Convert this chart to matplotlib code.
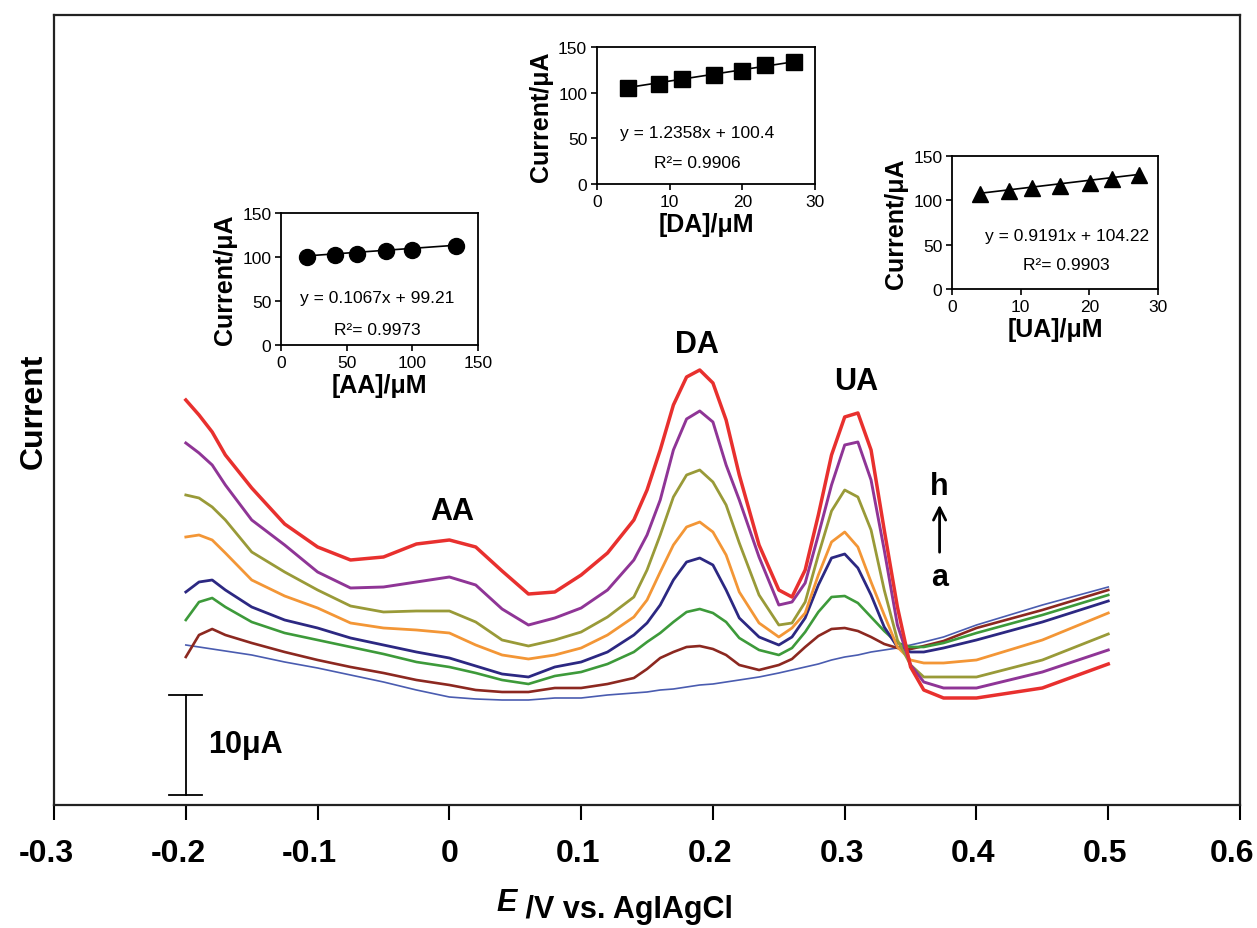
import numpy as np
import matplotlib
matplotlib.use('Agg')
import matplotlib.pyplot as plt
from matplotlib.transforms import ScaledTranslation

plt.rcParams['font.family'] = ['Liberation Sans', 'DejaVu Sans']

# potential (V vs Ag|AgCl) and currents (uA, arbitrary offset) for curves a..h
potential = [-0.2, -0.19, -0.18, -0.17, -0.15, -0.125, -0.1, -0.075, -0.05, -0.025,
             0, 0.02, 0.04, 0.06, 0.08, 0.1, 0.12, 0.14,
             0.15, 0.16, 0.17, 0.18, 0.19, 0.2, 0.21, 0.22, 0.235, 0.25,
             0.26, 0.27, 0.28, 0.29, 0.3, 0.31, 0.32, 0.33, 0.34, 0.35, 0.36,
             0.375, 0.4, 0.45, 0.5]

curve_a = [16.0, 15.8, 15.6, 15.4, 15.0, 14.3, 13.7, 13.0, 12.3, 11.5,
           10.8, 10.6, 10.5, 10.5, 10.7, 10.7, 11.0, 11.2,
           11.3, 11.5, 11.6, 11.8, 12.0, 12.1, 12.3, 12.5, 12.8, 13.2,
           13.5, 13.8, 14.1, 14.5, 14.8, 15.0, 15.3, 15.5, 15.7, 16.0, 16.3,
           16.8, 18.0, 20.0, 21.8]
curve_b = [14.8, 17.0, 17.6, 17.0, 16.2, 15.3, 14.5, 13.8, 13.2, 12.5,
           12.0, 11.5, 11.3, 11.3, 11.7, 11.7, 12.1, 12.7,
           13.6, 14.7, 15.3, 15.8, 15.9, 15.6, 15.0, 14.0, 13.5, 14.0,
           14.6, 15.8, 16.9, 17.6, 17.7, 17.4, 16.8, 16.1, 15.7, 15.6, 15.9,
           16.4, 17.7, 19.5, 21.5]
curve_c = [18.5, 20.3, 20.7, 19.8, 18.3, 17.2, 16.5, 15.8, 15.1, 14.3,
           13.8, 13.2, 12.5, 12.1, 12.9, 13.3, 14.1, 15.3,
           16.3, 17.2, 18.3, 19.3, 19.6, 19.2, 18.3, 16.7, 15.5, 15.0,
           15.7, 17.3, 19.3, 20.8, 20.9, 20.2, 18.8, 17.4, 16.2, 15.8, 15.8,
           16.2, 17.2, 19.0, 21.0]
curve_d = [21.3, 22.3, 22.5, 21.5, 19.8, 18.5, 17.7, 16.7, 16.0, 15.3,
           14.7, 13.9, 13.1, 12.8, 13.8, 14.3, 15.3, 17.0,
           18.2, 20.0, 22.5, 24.3, 24.7, 24.0, 21.5, 18.7, 16.8, 16.0,
           16.8, 18.7, 22.0, 24.7, 25.1, 23.7, 21.0, 17.8, 15.8, 15.3, 15.3,
           15.7, 16.5, 18.3, 20.4]
curve_e = [26.8, 27.0, 26.5, 25.2, 22.5, 20.9, 19.7, 18.2, 17.7, 17.5,
           17.2, 16.0, 15.0, 14.6, 15.0, 15.7, 17.0, 18.8,
           20.5, 23.3, 26.0, 27.8, 28.3, 27.3, 25.0, 21.3, 18.2, 16.8,
           17.7, 19.2, 23.0, 26.3, 27.3, 25.8, 22.3, 19.0, 15.8, 14.5, 14.2,
           14.2, 14.5, 16.5, 19.2]
curve_f = [31.0, 30.7, 29.8, 28.5, 25.3, 23.3, 21.5, 19.9, 19.3, 19.4,
           19.4, 18.3, 16.5, 15.9, 16.5, 17.3, 18.8, 20.8,
           23.5, 27.0, 30.8, 33.0, 33.5, 32.3, 30.0, 26.2, 21.0, 18.0,
           18.2, 20.3, 25.0, 29.4, 31.5, 30.8, 27.5, 21.5, 16.5, 14.0, 12.8,
           12.8, 12.8, 14.5, 17.1]
curve_g = [36.2, 35.2, 34.0, 32.0, 28.5, 26.0, 23.3, 21.7, 21.8, 22.3,
           22.8, 22.0, 19.6, 18.0, 18.7, 19.7, 21.5, 24.5,
           27.0, 30.5, 35.5, 38.6, 39.4, 38.3, 34.0, 30.5, 24.8, 20.0,
           20.3, 22.2, 27.0, 32.0, 36.0, 36.3, 32.5, 25.5, 18.0, 14.0, 12.3,
           11.7, 11.7, 13.3, 15.5]
curve_h = [40.5, 39.0, 37.3, 35.0, 31.7, 28.1, 25.8, 24.5, 24.8, 26.1,
           26.5, 25.8, 23.4, 21.1, 21.3, 23.0, 25.2, 28.5,
           31.5, 35.5, 40.0, 42.8, 43.5, 42.2, 38.5, 33.0, 26.0, 21.5,
           20.8, 23.5, 29.0, 35.0, 38.8, 39.2, 35.5, 27.5, 19.8, 13.8, 11.5,
           10.7, 10.7, 11.7, 14.1]

x_ticks = [-0.3, -0.2, -0.1, 0, 0.1, 0.2, 0.3, 0.4, 0.5, 0.6]
x_ticklabels = ['-0.3', '-0.2', '-0.1', '0', '0.1', '0.2', '0.3', '0.4', '0.5', '0.6']
scale_bar = 10  # uA

# calibration insets
aa_conc = [20, 41, 58, 80, 100, 133]
aa_current = [100.5, 102.5, 103.5, 106.5, 108.5, 112.5]
aa_fit = (0.1067, 99.21, 0.9973)
da_conc = [4.3, 8.5, 11.7, 16.1, 20.0, 23.1, 27.1]
da_current = [105.0, 109.8, 114.5, 118.9, 123.3, 129.9, 133.6]
da_fit = (1.2358, 100.4, 0.9906)
ua_conc = [4.0, 8.3, 11.6, 15.7, 20.1, 23.3, 27.2]
ua_current = [106.9, 110.6, 114.4, 116.3, 120.0, 123.8, 128.3]
ua_fit = (0.9191, 104.22, 0.9903)

curves = [curve_a, curve_b, curve_c, curve_d, curve_e, curve_f, curve_g, curve_h]
colors = ['#4a5cb0', '#8c2820', '#3d9a3a', '#2c2882', '#f39636', '#999a38', '#8f3596', '#e8302e']
widths = [1.2, 1.9, 1.9, 2.0, 2.0, 2.0, 2.1, 2.5]

fig = plt.figure(figsize=(12.57, 9.29), dpi=100)
ax = fig.add_axes([0.043, 0.1324, 0.9435, 0.8504])

for y, c, lw in zip(curves, colors, widths):
    ax.plot(potential, y, color=c, lw=lw, solid_joinstyle='round')

ax.set_xlim(-0.3, 0.6)
ax.set_ylim(0, 79)
ax.set_yticks([])
ax.set_xticks(x_ticks)
ax.set_xticklabels(x_ticklabels, fontsize=23, fontweight='bold')
ax.tick_params(axis='x', direction='out', length=11, width=1.5, pad=13)
# labels in the original sit a little left of their ticks
for lab, txt in zip(ax.get_xticklabels(), x_ticklabels):
    if txt == '0':
        continue
    dx = -8 if (txt.startswith('-') or txt == '0.6') else -3
    lab.set_transform(lab.get_transform() + ScaledTranslation(dx / 100, 0, fig.dpi_scale_trans))
for s in ax.spines.values():
    s.set_linewidth(1.6)
    s.set_color('#222222')
ax.set_ylabel('Current', fontsize=23, fontweight='bold', labelpad=4)

# x label with italic E
t1 = fig.text(0.395, 0.019, 'E', fontsize=22, fontweight='bold', style='italic', ha='left', va='baseline')
ax.annotate(' /V vs. AgIAgCl', xy=(1, 0), xycoords=t1, fontsize=22, fontweight='bold',
            ha='left', va='baseline')

# scale bar
ax.plot([-0.2, -0.2], [1, 1 + scale_bar], color='k', lw=1.3)
ax.plot([-0.2125, -0.1875], [1, 1], color='k', lw=1.3)
ax.plot([-0.2125, -0.1875], [1 + scale_bar, 1 + scale_bar], color='k', lw=1.3)
ax.text(-0.155, 6.1, '10\u03bcA', fontsize=22, fontweight='bold', ha='center', va='center')

ax.text(0.002, 29.4, 'AA', fontsize=22, fontweight='bold', ha='center', va='center')
ax.text(0.188, 46.1, 'DA', fontsize=22, fontweight='bold', ha='center', va='center')
ax.text(0.309, 42.4, 'UA', fontsize=22, fontweight='bold', ha='center', va='center')
ax.text(0.372, 31.9, 'h', fontsize=22, fontweight='bold', ha='center', va='center')
ax.text(0.372, 22.8, 'a', fontsize=22, fontweight='bold', ha='center', va='center')
ax.annotate('', xy=(0.372, 30.3), xytext=(0.372, 25.0),
            arrowprops=dict(arrowstyle='->', color='k', lw=2, mutation_scale=22))


def inset(rect, conc, cur, fit, marker, ms, xmax, xstep, xlabel, eq_x, eq_y, r_y):
    a = fig.add_axes(rect)
    slope, icpt, r2 = fit
    xs = np.array([conc[0], conc[-1]])
    a.plot(xs, slope * xs + icpt, color='k', lw=1.2)
    a.plot(conc, cur, ls='none', marker=marker, ms=ms, color='k')
    a.set_xlim(0, xmax)
    a.set_ylim(0, 150)
    a.set_xticks(np.arange(0, xmax + 1, xstep))
    a.set_yticks([0, 50, 100, 150])
    a.tick_params(direction='out', length=4, width=1.2, labelsize=12.5, pad=3)
    for s in a.spines.values():
        s.set_linewidth(1.3)
    a.set_xlabel(xlabel, fontsize=18, fontweight='bold', labelpad=2)
    a.set_ylabel('Current/\u03bcA', fontsize=18, fontweight='bold', labelpad=4)
    a.text(eq_x, eq_y, f'y = {slope}x + {icpt}', fontsize=12.5, ha='center', va='center')
    a.text(eq_x, r_y, f'R\u00b2= {r2}', fontsize=12.5, ha='center', va='center')
    return a


inset([0.2236, 0.6275, 0.1567, 0.1421], aa_conc, aa_current, aa_fit, 'o', 11.5, 150, 50,
      '[AA]/\u03bcM', 73, 54, 18)
inset([0.4749, 0.8008, 0.1734, 0.1475], da_conc, da_current, da_fit, 's', 11, 30, 10,
      '[DA]/\u03bcM', 13.8, 56.7, 23.8)
inset([0.7574, 0.6878, 0.1639, 0.1432], ua_conc, ua_current, ua_fit, '^', 11.5, 30, 10,
      '[UA]/\u03bcM', 16.7, 60, 28)

fig.savefig('out.png', dpi=100)
